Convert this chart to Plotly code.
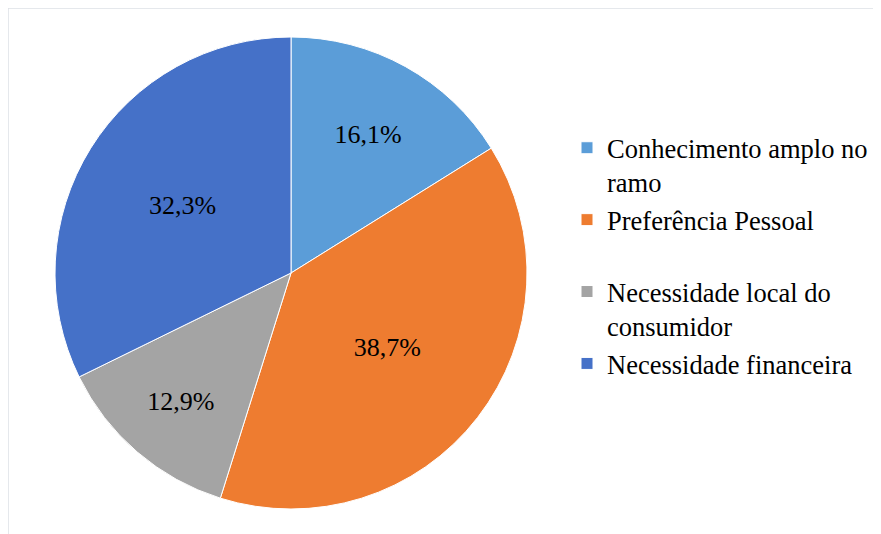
import plotly.graph_objects as go

labels = ["Conhecimento amplo no<br>ramo", "Preferência Pessoal<br>\u00a0",
          "Necessidade local do<br>consumidor", "Necessidade financeira"]
values = [5, 12, 4, 10]
colors = ["#5B9DD8", "#EE7C30", "#A4A4A4", "#4571C8"]

W, H = 881, 534
OFF = 8  # page body margin
cx, cy, r = 291 - OFF, 273 - OFF, 236

fig = go.Figure(go.Pie(
    labels=labels,
    values=values,
    sort=False,
    direction="clockwise",
    rotation=0,
    marker=dict(colors=colors, line=dict(color="white", width=1)),
    texttemplate="%{percent:.1%}",
    textposition="inside",
    insidetextorientation="horizontal",
    textfont=dict(family="Liberation Serif", size=26, color="#000000"),
    domain=dict(x=[(cx - r) / W, (cx + r) / W], y=[1 - (cy + r) / H, 1 - (cy - r) / H]),
))

fig.update_layout(
    width=W, height=H,
    margin=dict(l=0, r=0, t=0, b=0),
    paper_bgcolor="white",
    separators=",.",
    showlegend=True,
    legend=dict(
        x=(567 - OFF) / W, y=1 - (124 - OFF) / H, xanchor="left", yanchor="top",
        valign="top",
        font=dict(family="Liberation Serif", size=26.5, color="#000000"),
        bgcolor="rgba(0,0,0,0)",
    ),
    shapes=[
        dict(type="rect", xref="paper", yref="paper",
             x0=0, x1=1.05, y0=-0.05, y1=1,
             line=dict(color="#dde1e6", width=1.5), fillcolor="rgba(0,0,0,0)"),
    ],
)

fig.write_html("out.html")
